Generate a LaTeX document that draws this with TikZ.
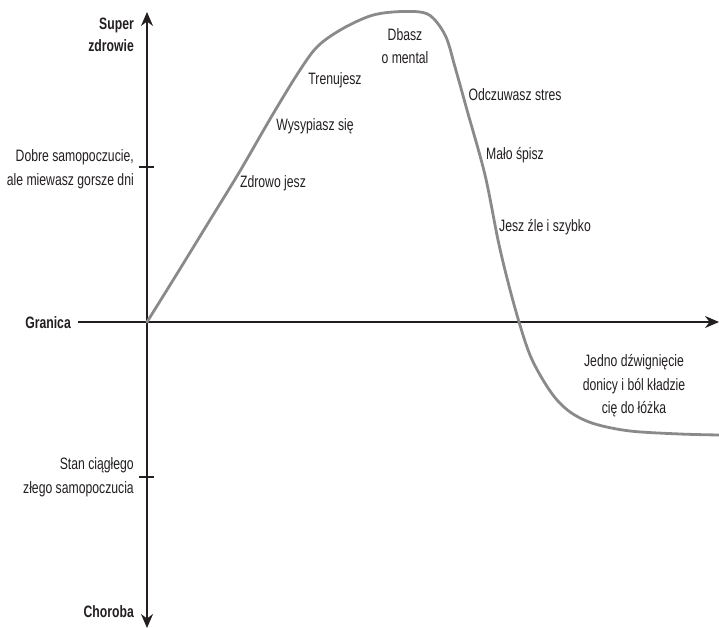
\documentclass[tikz,border=0pt]{standalone}
\usepackage{fontspec}
\setmainfont[FakeStretch=0.74]{Liberation Sans}
\usetikzlibrary{arrows.meta}
\definecolor{ink}{HTML}{231F20}
\definecolor{curvegray}{HTML}{8A8A8A}
\tikzset{
  axisline/.style={draw=ink, line width=1.8pt},
  axisarrow/.style={-{Stealth[length=14pt,width=12pt]}},
  ticklbl/.style={anchor=east, align=right, text=ink, font=\fontsize{16.5}{24}\selectfont, inner sep=0pt},
  boldlbl/.style={anchor=east, align=right, text=ink, font=\fontsize{16.5}{22}\selectfont\bfseries, inner sep=0pt},
  curvelbl/.style={align=center, text=ink, font=\fontsize{16.5}{23.5}\selectfont, inner sep=0pt},
  healthcurve/.style={draw=curvegray, line width=2.8pt, line cap=round, line join=round}
}
\begin{document}
\begin{tikzpicture}[x=1pt,y=-1pt]
\useasboundingbox (0,0) rectangle (719,628);
% axes
\coordinate (vtop) at (147,12);
\coordinate (vbot) at (147,628);
\coordinate (origin) at (147,322);
\coordinate (hleft) at (78,322);
\coordinate (hright) at (719,322);
\draw[axisline, {Stealth[length=14pt,width=12pt]}-{Stealth[length=14pt,width=12pt]}] (vbot) -- (vtop);
\draw[axisline, axisarrow] (hleft) -- (hright);
% ticks
\coordinate (t1a) at (139,167);
\coordinate (t1b) at (154,167);
\coordinate (t2a) at (139,477);
\coordinate (t2b) at (154,477);
\draw[axisline] (t1a) -- (t1b);
\draw[axisline] (t2a) -- (t2b);
% axis labels
\node[boldlbl] (super) at (134,35) {Super\\zdrowie};
\node[ticklbl] (dobre) at (134,169) {Dobre samopoczucie,\\ale miewasz gorsze dni};
\node[boldlbl] (granica) at (71,323) {Granica};
\node[ticklbl] (stan) at (134,477) {Stan ciągłego\\złego samopoczucia};
\node[boldlbl] (choroba) at (134,612) {Choroba};
% curve
\draw[healthcurve] plot[smooth, tension=0.55] coordinates {
 (147,322) (175,277) (210,220) (240,171) (273,114) (300,70) (318,46)
 (342,29) (370,16) (393,12) (420,12) (433,18) (446,37) (455,67)
 (467,110) (485,175) (498,240) (508,282) (519,322) (530,355)
 (543,380) (557,400) (573,414) (595,424) (630,431) (680,434) (719,435)};
% curve labels
\node[curvelbl] (zdrowo) at (273,183) {Zdrowo jesz};
\node[curvelbl] (wysyp) at (315,126) {Wysypiasz się};
\node[curvelbl] (trenujesz) at (335,80) {Trenujesz};
\node[curvelbl] (dbasz) at (405,46) {Dbasz\\o mental};
\node[curvelbl] (stres) at (515,95) {Odczuwasz stres};
\node[curvelbl] (malo) at (515,155) {Mało śpisz};
\node[curvelbl] (jesz) at (545,227) {Jesz źle i szybko};
\node[curvelbl] (jedno) at (634,386) {Jedno dźwignięcie\\donicy i ból kładzie\\cię do łóżka};
\end{tikzpicture}
\end{document}
